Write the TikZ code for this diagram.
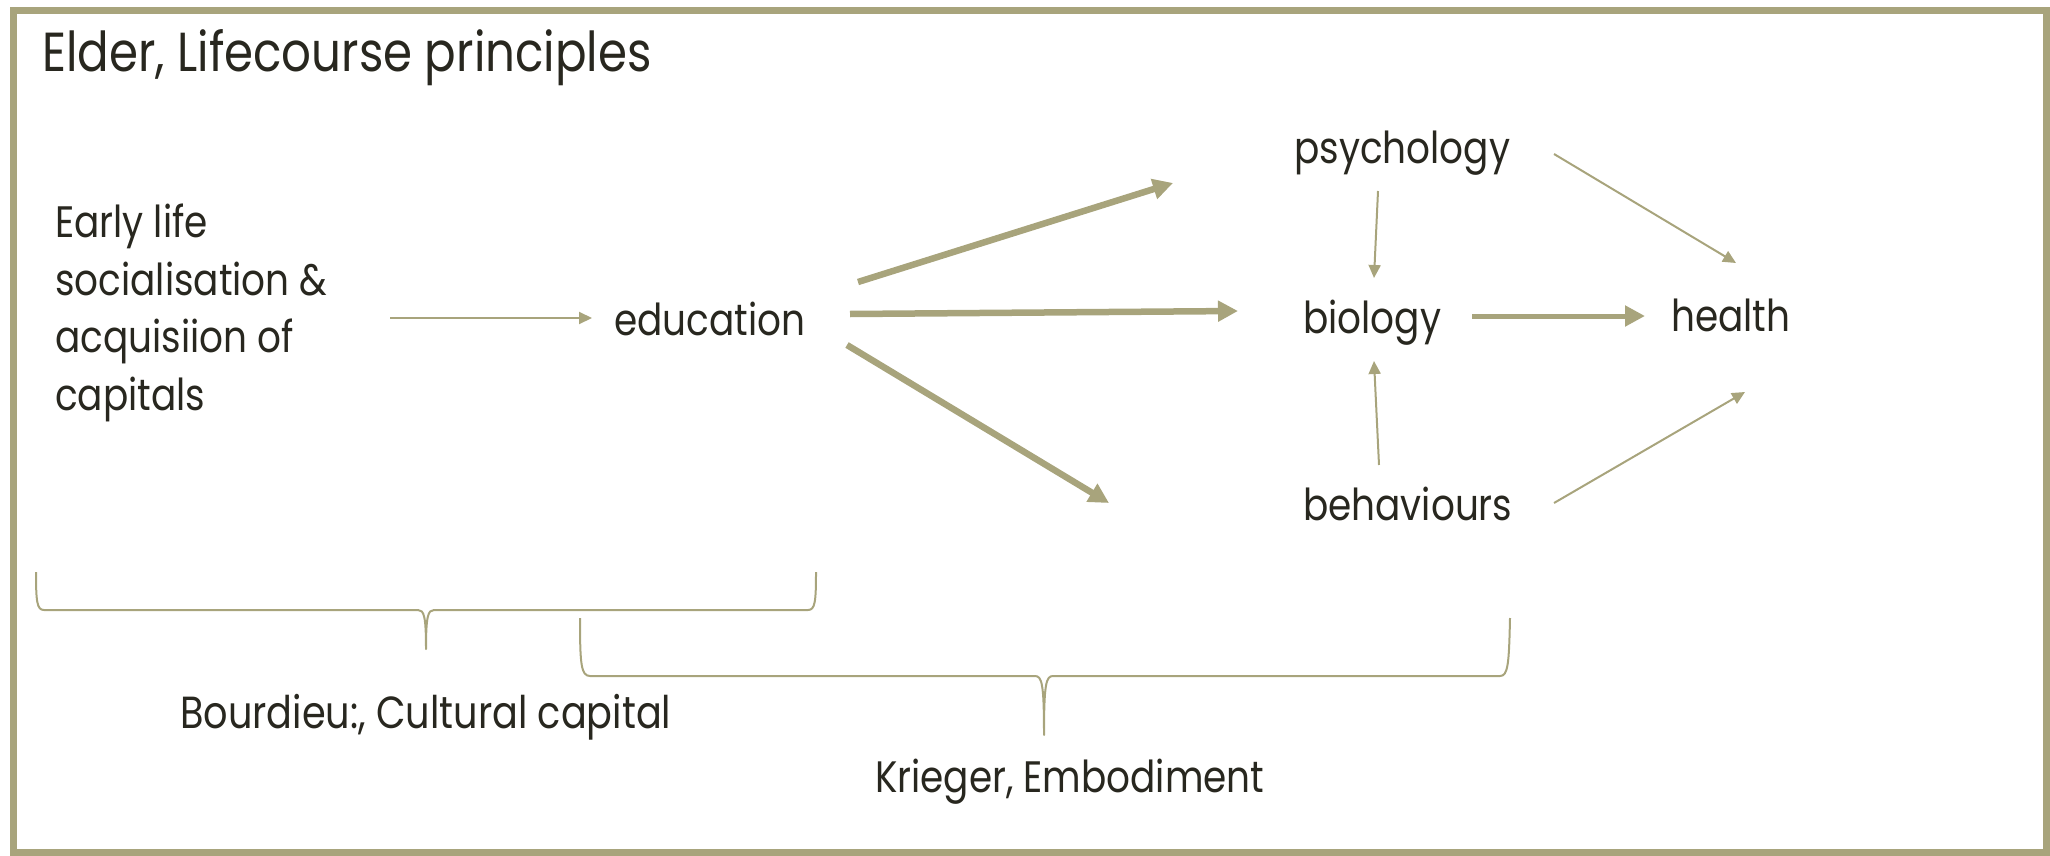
\documentclass[tikz,border=0pt]{standalone}
\usepackage{fontspec}
\setmainfont{Poppins}[FakeStretch=0.85]
\usetikzlibrary{arrows.meta}
\definecolor{olive}{HTML}{A8A47C}
\definecolor{ink}{HTML}{28271F}
\begin{document}
\begin{tikzpicture}[x=1pt,y=-1pt,
  lbl/.style={text=ink, inner sep=0pt, anchor=base west, font=\fontsize{44}{57.5}\selectfont},
  titlelbl/.style={lbl, font=\fontsize{55}{60}\selectfont},
  thinarrow/.style={draw=olive, line width=2pt, -{Triangle[length=13pt,width=12pt]}},
  heavyarrow/.style={draw=olive, line width=6.5pt, -{Triangle[length=20pt,width=20pt]}},
  bracepath/.style={draw=olive, line width=2pt, line join=round}]
\useasboundingbox (0,0) rectangle (2050,856);
% frame
\draw[olive, line width=7pt] (13.5,10.5) rectangle (2046.5,852.5);

% texts (the multi-line block is placed by the baseline of its last line)
\node[titlelbl] (title) at (42,72) {Elder, Lifecourse principles};
\node[lbl, align=left] (early) at (55,410) {Early life\\socialisation \&\\acquisiion of\\capitals};
\node[lbl] (edu) at (614,335) {education};
\node[lbl] (psy) at (1294,163) {psychology};
\node[lbl] (bio) at (1303,333) {biology};
\node[lbl] (beh) at (1303,520) {behaviours};
\node[lbl] (hea) at (1671,331) {health};
\node[lbl, font=\fontsize{45}{57.5}\selectfont] (bourdieu) at (180,728) {Bourdieu:, Cultural capital};
\node[lbl] (krieger) at (875,792) {Krieger, Embodiment};

% connector end points
\coordinate (early-out) at (390,318);
\coordinate (edu-in) at (592,318);
\coordinate (edu-out1) at (858,282);
\coordinate (edu-out2) at (850,314);
\coordinate (edu-out3) at (847,345);
\coordinate (psy-in) at (1173,183);
\coordinate (bio-in) at (1238,311);
\coordinate (beh-in) at (1109,503);
\coordinate (psy-down) at (1378,191);
\coordinate (bio-top) at (1374,278);
\coordinate (beh-up) at (1379,465);
\coordinate (bio-bot) at (1374,361);
\coordinate (bio-out) at (1472,316);
\coordinate (hea-in) at (1645,316);
\coordinate (psy-out) at (1554,154);
\coordinate (hea-top) at (1736,263);
\coordinate (beh-out) at (1554,503);
\coordinate (hea-bot) at (1745,392);

% connectors
\draw[thinarrow] (early-out) -- (edu-in);
\draw[heavyarrow] (edu-out1) -- (psy-in);
\draw[heavyarrow] (edu-out2) -- (bio-in);
\draw[heavyarrow] (edu-out3) -- (beh-in);
\draw[thinarrow] (psy-down) -- (bio-top);
\draw[thinarrow] (beh-up) -- (bio-bot);
\draw[heavyarrow, line width=5pt] (bio-out) -- (hea-in);
\draw[thinarrow] (psy-out) -- (hea-top);
\draw[thinarrow] (beh-out) -- (hea-bot);

% braces
\draw[bracepath] (36,572) .. controls (36,602) and (37,610) .. (44,610) -- (418,610)
  .. controls (424,610) and (426,616) .. (426,649)
  .. controls (426,616) and (428,610) .. (434,610) -- (808,610)
  .. controls (815,610) and (816,602) .. (816,572);
\draw[bracepath] (580,618) .. controls (580,664) and (581,676) .. (590,676) -- (1035,676)
  .. controls (1042,676) and (1044,684) .. (1044,735)
  .. controls (1044,684) and (1046,676) .. (1053,676) -- (1500,676)
  .. controls (1508,676) and (1509,664) .. (1510,618);
\end{tikzpicture}
\end{document}
